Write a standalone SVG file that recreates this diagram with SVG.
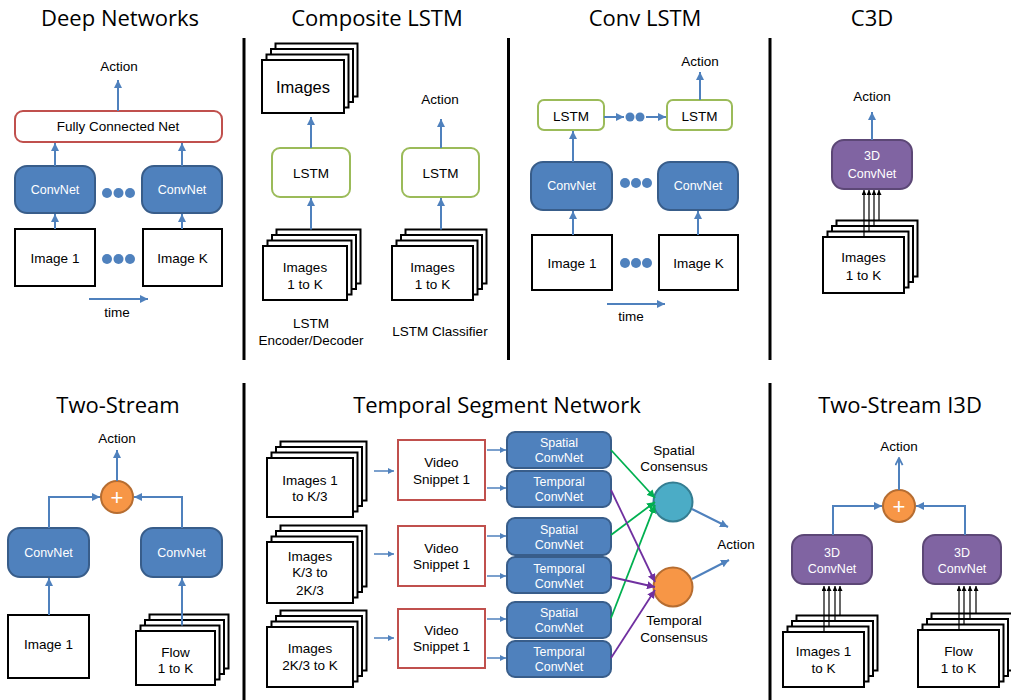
<svg xmlns="http://www.w3.org/2000/svg" width="1011" height="700" viewBox="0 0 1011 700">
<defs>
<style>
.t{font-family:"Open Sans","Noto Sans",sans-serif;font-size:22px;text-anchor:middle;fill:#000}
.l{font-family:"Liberation Sans",Arial,sans-serif;font-size:13.5px;text-anchor:middle;fill:#000}
.w{font-family:"Liberation Sans",Arial,sans-serif;font-size:12.5px;text-anchor:middle;fill:#fff}
.big{font-size:16.5px}
.plus{font-family:"Liberation Sans",Arial,sans-serif;font-size:22px;text-anchor:middle;fill:#fff}
.img{fill:#fff;stroke:#000;stroke-width:2}
.cn{fill:#4F81BD;stroke:#385D8A;stroke-width:2}
.ls{fill:#fff;stroke:#9BBB59;stroke-width:2}
.rd{fill:#fff;stroke:#C0504D;stroke-width:2}
.c3{fill:#8064A2;stroke:#5C4776;stroke-width:2}
.or{fill:#F79646;stroke:#B66D31;stroke-width:2}
.tl{fill:#4BACC6;stroke:#357D91;stroke-width:2}
.dot{fill:#4F81BD}
.a{fill:none;stroke:#4F81BD;stroke-width:2;marker-end:url(#ab)}
.as{fill:none;stroke:#4F81BD;stroke-width:1.5;marker-end:url(#abs)}
.av{fill:none;stroke:#4F81BD;stroke-width:2;marker-end:url(#av)}
.ak{fill:none;stroke:#000;stroke-width:1.2;marker-end:url(#ak)}
.ag{fill:none;stroke:#00B050;stroke-width:1.8;marker-end:url(#ag)}
.ap{fill:none;stroke:#7030A0;stroke-width:1.8;marker-end:url(#ap)}
.dv{stroke:#000;stroke-width:3}
</style>
<marker id="ab" viewBox="0 0 10 10" refX="10" refY="5" markerWidth="8" markerHeight="8" markerUnits="userSpaceOnUse" orient="auto"><path d="M0,0 L10,5 L0,10 z" fill="#4F81BD"/></marker>
<marker id="abs" viewBox="0 0 10 10" refX="10" refY="5" markerWidth="6" markerHeight="6" markerUnits="userSpaceOnUse" orient="auto"><path d="M0,0 L10,5 L0,10 z" fill="#4F81BD"/></marker>
<marker id="av" viewBox="0 0 10 10" refX="9" refY="5" markerWidth="9" markerHeight="9" markerUnits="userSpaceOnUse" orient="auto"><path d="M1,1 L9,5 L1,9" fill="none" stroke="#4F81BD" stroke-width="2"/></marker>
<marker id="ak" viewBox="0 0 10 10" refX="10" refY="5" markerWidth="6" markerHeight="5" markerUnits="userSpaceOnUse" orient="auto"><path d="M0,0 L10,5 L0,10 z" fill="#000"/></marker>
<marker id="ag" viewBox="0 0 10 10" refX="10" refY="5" markerWidth="8" markerHeight="8" markerUnits="userSpaceOnUse" orient="auto"><path d="M0,0 L10,5 L0,10 z" fill="#00B050"/></marker>
<marker id="ap" viewBox="0 0 10 10" refX="10" refY="5" markerWidth="8" markerHeight="8" markerUnits="userSpaceOnUse" orient="auto"><path d="M0,0 L10,5 L0,10 z" fill="#7030A0"/></marker>
</defs>
<rect x="0" y="0" width="1011" height="700" fill="#fff"/>

<g id="dividers">
<line class="dv" x1="244" y1="38" x2="244" y2="360"/>
<line class="dv" x1="508.5" y1="38" x2="508.5" y2="360"/>
<line class="dv" x1="770" y1="38" x2="770" y2="360"/>
<line class="dv" x1="244" y1="383" x2="244" y2="700"/>
<line class="dv" x1="770" y1="383" x2="770" y2="700"/>
</g>

<g id="titles">
<text class="t" x="120" y="26">Deep Networks</text>
<text class="t" x="377" y="26">Composite LSTM</text>
<text class="t" x="645" y="26">Conv LSTM</text>
<text class="t" x="872" y="26">C3D</text>
<text class="t" x="118" y="413">Two-Stream</text>
<text class="t" x="497" y="413">Temporal Segment Network</text>
<text class="t" x="900" y="413">Two-Stream I3D</text>
</g>

<!-- Deep Networks -->
<g id="dn-action"><text class="l" x="119" y="71">Action</text></g>
<g id="dn-fc"><rect class="rd" x="15" y="111" width="207" height="31" rx="8"/><text class="l" x="118" y="131">Fully Connected Net</text></g>
<g id="dn-conv1"><rect class="cn" x="15" y="166" width="80" height="47" rx="12"/><text class="w" x="55" y="194">ConvNet</text></g>
<g id="dn-convk"><rect class="cn" x="142" y="166" width="80" height="47" rx="12"/><text class="w" x="182" y="194">ConvNet</text></g>
<g id="dn-dots1"><circle class="dot" cx="107" cy="193" r="5"/><circle class="dot" cx="118.5" cy="193" r="5"/><circle class="dot" cx="130" cy="193" r="5"/></g>
<g id="dn-img1"><rect class="img" x="15" y="229" width="80" height="57"/><text class="l" x="55" y="263">Image 1</text></g>
<g id="dn-imgk"><rect class="img" x="143" y="229" width="79" height="57"/><text class="l" x="182.5" y="263">Image K</text></g>
<g id="dn-dots2"><circle class="dot" cx="107" cy="259" r="5"/><circle class="dot" cx="118.5" cy="259" r="5"/><circle class="dot" cx="130" cy="259" r="5"/></g>
<g id="dn-time"><text class="l" x="117" y="317">time</text></g>

<!-- Composite LSTM -->
<g id="cl-images">
<rect class="img" x="275.5" y="43.5" width="82" height="53"/>
<rect class="img" x="271" y="49" width="82" height="53"/>
<rect class="img" x="266.5" y="54.5" width="82" height="53"/>
<rect class="img" x="262" y="60" width="82" height="53"/>
<text class="l big" x="303" y="93">Images</text>
</g>
<g id="cl-lstm1"><rect class="ls" x="272" y="148" width="78" height="49" rx="8"/><text class="l" x="311" y="178">LSTM</text></g>
<g id="cl-stack1">
<rect class="img" x="276.5" y="229.5" width="84" height="54"/>
<rect class="img" x="272" y="235" width="84" height="54"/>
<rect class="img" x="267.5" y="240.5" width="84" height="54"/>
<rect class="img" x="263" y="246" width="84" height="54"/>
<text class="l" x="305" y="272">Images</text><text class="l" x="305" y="289">1 to K</text>
</g>
<g id="cl-label1"><text class="l" x="311" y="328">LSTM</text><text class="l" x="311" y="345">Encoder/Decoder</text></g>
<g id="cl-action"><text class="l" x="440" y="104">Action</text></g>
<g id="cl-lstm2"><rect class="ls" x="402" y="148" width="77" height="49" rx="8"/><text class="l" x="440.5" y="178">LSTM</text></g>
<g id="cl-stack2">
<rect class="img" x="405.5" y="229.5" width="81" height="54"/>
<rect class="img" x="401" y="235" width="81" height="54"/>
<rect class="img" x="396.5" y="240.5" width="81" height="54"/>
<rect class="img" x="392" y="246" width="81" height="54"/>
<text class="l" x="432.5" y="272">Images</text><text class="l" x="432.5" y="289">1 to K</text>
</g>
<g id="cl-label2"><text class="l" x="440" y="336">LSTM Classifier</text></g>

<!-- Conv LSTM -->
<g id="cv-action"><text class="l" x="700" y="66">Action</text></g>
<g id="cv-lstm1"><rect class="ls" x="538" y="100" width="66" height="30" rx="6"/><text class="l" x="571" y="121">LSTM</text></g>
<g id="cv-lstmk"><rect class="ls" x="667" y="100" width="65" height="30" rx="6"/><text class="l" x="699.5" y="121">LSTM</text></g>
<g id="cv-dots0"><circle class="dot" cx="630" cy="117" r="4.5"/><circle class="dot" cx="640" cy="117" r="4.5"/></g>
<g id="cv-conv1"><rect class="cn" x="531" y="162" width="81" height="48" rx="12"/><text class="w" x="571.5" y="190">ConvNet</text></g>
<g id="cv-convk"><rect class="cn" x="658" y="162" width="80" height="48" rx="12"/><text class="w" x="698" y="190">ConvNet</text></g>
<g id="cv-dots1"><circle class="dot" cx="625" cy="183" r="5"/><circle class="dot" cx="636" cy="183" r="5"/><circle class="dot" cx="647" cy="183" r="5"/></g>
<g id="cv-img1"><rect class="img" x="532" y="235" width="80" height="55"/><text class="l" x="572" y="268">Image 1</text></g>
<g id="cv-imgk"><rect class="img" x="659" y="235" width="79" height="55"/><text class="l" x="698.5" y="268">Image K</text></g>
<g id="cv-dots2"><circle class="dot" cx="625" cy="263" r="5"/><circle class="dot" cx="636" cy="263" r="5"/><circle class="dot" cx="647" cy="263" r="5"/></g>
<g id="cv-time"><text class="l" x="631" y="321">time</text></g>

<!-- C3D -->
<g id="c3-action"><text class="l" x="872" y="101">Action</text></g>
<g id="c3-net"><rect class="c3" x="832" y="140" width="80" height="49" rx="12"/><text class="w" x="872" y="160">3D</text><text class="w" x="872" y="177.5">ConvNet</text></g>
<g id="c3-stack">
<rect class="img" x="836.5" y="220.5" width="81" height="56"/>
<rect class="img" x="832" y="226" width="81" height="56"/>
<rect class="img" x="827.5" y="231.5" width="81" height="56"/>
<rect class="img" x="823" y="237" width="81" height="56"/>
<text class="l" x="863.5" y="262">Images</text><text class="l" x="863.5" y="280">1 to K</text>
</g>

<!-- Two-Stream -->
<g id="ts-action"><text class="l" x="117" y="443">Action</text></g>
<g id="ts-sum"><circle class="or" cx="117" cy="497" r="16"/><text class="plus" x="117" y="504.5">+</text></g>
<g id="ts-conv1"><rect class="cn" x="8" y="528" width="81" height="49" rx="12"/><text class="w" x="48.5" y="557">ConvNet</text></g>
<g id="ts-conv2"><rect class="cn" x="141" y="528" width="81" height="49" rx="12"/><text class="w" x="181.5" y="557">ConvNet</text></g>
<g id="ts-img"><rect class="img" x="8" y="615" width="81" height="63"/><text class="l" x="48.5" y="649">Image 1</text></g>
<g id="ts-flow">
<rect class="img" x="149.5" y="614.5" width="79" height="54"/>
<rect class="img" x="145" y="620" width="79" height="54"/>
<rect class="img" x="140.5" y="625.5" width="79" height="54"/>
<rect class="img" x="136" y="631" width="79" height="54"/>
<text class="l" x="175.5" y="656.5">Flow</text><text class="l" x="175.5" y="673">1 to K</text>
</g>

<!-- TSN -->
<g id="tsn-stack1">
<rect class="img" x="280.5" y="441.5" width="86" height="59"/>
<rect class="img" x="276" y="447" width="86" height="59"/>
<rect class="img" x="271.5" y="452.5" width="86" height="59"/>
<rect class="img" x="267" y="458" width="86" height="59"/>
<text class="l" x="310" y="484.5">Images 1</text><text class="l" x="310" y="501">to K/3</text>
</g>
<g id="tsn-stack2">
<rect class="img" x="280.5" y="525.5" width="86" height="61"/>
<rect class="img" x="276" y="531" width="86" height="61"/>
<rect class="img" x="271.5" y="536.5" width="86" height="61"/>
<rect class="img" x="267" y="542" width="86" height="61"/>
<text class="l" x="310" y="560.5">Images</text><text class="l" x="310" y="577">K/3 to</text><text class="l" x="310" y="594.5">2K/3</text>
</g>
<g id="tsn-stack3">
<rect class="img" x="280.5" y="610.5" width="86" height="60"/>
<rect class="img" x="276" y="616" width="86" height="60"/>
<rect class="img" x="271.5" y="621.5" width="86" height="60"/>
<rect class="img" x="267" y="627" width="86" height="60"/>
<text class="l" x="310" y="653">Images</text><text class="l" x="310" y="670">2K/3 to K</text>
</g>
<g id="tsn-snip1"><rect class="rd" x="398" y="440" width="87" height="60"/><text class="l" x="441.5" y="467">Video</text><text class="l" x="441.5" y="483.5">Snippet 1</text></g>
<g id="tsn-snip2"><rect class="rd" x="398" y="526" width="87" height="60"/><text class="l" x="441.5" y="553">Video</text><text class="l" x="441.5" y="569">Snippet 1</text></g>
<g id="tsn-snip3"><rect class="rd" x="398" y="609" width="87" height="59"/><text class="l" x="441.5" y="635">Video</text><text class="l" x="441.5" y="651">Snippet 1</text></g>
<g id="tsn-s1"><rect class="cn" x="507" y="432" width="104" height="36" rx="8"/><text class="w" x="559" y="446.5">Spatial</text><text class="w" x="559" y="462">ConvNet</text></g>
<g id="tsn-t1"><rect class="cn" x="507" y="471" width="104" height="36" rx="8"/><text class="w" x="559" y="486">Temporal</text><text class="w" x="559" y="501">ConvNet</text></g>
<g id="tsn-s2"><rect class="cn" x="507" y="518" width="104" height="37" rx="8"/><text class="w" x="559" y="533.5">Spatial</text><text class="w" x="559" y="548.5">ConvNet</text></g>
<g id="tsn-t2"><rect class="cn" x="507" y="557" width="104" height="36" rx="8"/><text class="w" x="559" y="573">Temporal</text><text class="w" x="559" y="587.5">ConvNet</text></g>
<g id="tsn-s3"><rect class="cn" x="507" y="602" width="104" height="36" rx="8"/><text class="w" x="559" y="616.5">Spatial</text><text class="w" x="559" y="632">ConvNet</text></g>
<g id="tsn-t3"><rect class="cn" x="507" y="641" width="104" height="36" rx="8"/><text class="w" x="559" y="656">Temporal</text><text class="w" x="559" y="671">ConvNet</text></g>
<g id="tsn-sc"><circle class="tl" cx="673" cy="502" r="19.5"/><text class="l" x="674" y="454.5">Spatial</text><text class="l" x="674" y="470.5">Consensus</text></g>
<g id="tsn-tc"><circle class="or" cx="673" cy="587" r="19.5"/><text class="l" x="674" y="625">Temporal</text><text class="l" x="674" y="642">Consensus</text></g>
<g id="tsn-action"><text class="l" x="736" y="549">Action</text></g>

<!-- Two-Stream I3D -->
<g id="i3-action"><text class="l" x="899" y="451">Action</text></g>
<g id="i3-sum"><circle class="or" cx="899" cy="506" r="16"/><text class="plus" x="899" y="513.5">+</text></g>
<g id="i3-net1"><rect class="c3" x="792" y="535" width="80" height="49" rx="12"/><text class="w" x="832" y="557">3D</text><text class="w" x="832" y="572.5">ConvNet</text></g>
<g id="i3-net2"><rect class="c3" x="923" y="535" width="78" height="49" rx="12"/><text class="w" x="962" y="557">3D</text><text class="w" x="962" y="572.5">ConvNet</text></g>
<g id="i3-stack1">
<rect class="img" x="796.5" y="615.5" width="81" height="55"/>
<rect class="img" x="792" y="621" width="81" height="55"/>
<rect class="img" x="787.5" y="626.5" width="81" height="55"/>
<rect class="img" x="783" y="632" width="81" height="55"/>
<text class="l" x="823.5" y="656">Images 1</text><text class="l" x="823.5" y="673">to K</text>
</g>
<g id="i3-stack2">
<rect class="img" x="931.5" y="613.5" width="81" height="57"/>
<rect class="img" x="927" y="619" width="81" height="57"/>
<rect class="img" x="922.5" y="624.5" width="81" height="57"/>
<rect class="img" x="918" y="630" width="81" height="57"/>
<text class="l" x="958.5" y="656">Flow</text><text class="l" x="958.5" y="673">1 to K</text>
</g>

<g id="connectors">
<!-- Deep Networks -->
<path class="a" d="M118 111 V80"/>
<path class="a" d="M55 166 V143"/>
<path class="a" d="M182 166 V143"/>
<path class="a" d="M55 229 V214"/>
<path class="a" d="M182 229 V214"/>
<path class="a" d="M89 299 H148"/>
<!-- Composite LSTM -->
<path class="a" d="M311 148 V117"/>
<path class="a" d="M311 229.5 V198"/>
<path class="a" d="M441 148 V119"/>
<path class="a" d="M441 229.5 V198"/>
<!-- Conv LSTM -->
<path class="a" d="M700 100 V72"/>
<path class="a" d="M604 117 H624"/>
<path class="a" d="M646 117 H666"/>
<path class="a" d="M573 162 V131"/>
<path class="a" d="M573 235 V211"/>
<path class="a" d="M698 235 V211"/>
<path class="a" d="M607 304 H665"/>
<!-- C3D -->
<path class="a" d="M872 140 V112"/>
<path class="ak" d="M864 237 V190"/>
<path class="ak" d="M869 231.5 V190"/>
<path class="ak" d="M874 226 V190"/>
<path class="ak" d="M879 220.5 V190"/>
<!-- Two-Stream -->
<path class="a" d="M117 481 V450"/>
<path class="a" d="M49 528 V497 H100"/>
<path class="a" d="M182 528 V497 H134"/>
<path class="a" d="M49 615 V578"/>
<path class="a" d="M182 625.5 V578"/>
<!-- TSN -->
<path class="as" d="M374 471 H394"/>
<path class="as" d="M374 554 H394"/>
<path class="as" d="M374 638 H394"/>
<path class="as" d="M487 450 H506"/>
<path class="as" d="M487 488 H506"/>
<path class="as" d="M487 536 H506"/>
<path class="as" d="M487 576 H506"/>
<path class="as" d="M487 619 H506"/>
<path class="as" d="M487 658 H506"/>
<path class="ag" d="M611 450 L655 498"/>
<path class="ag" d="M611 535 L655 502"/>
<path class="ag" d="M611 618 L655 505"/>
<path class="ap" d="M611 490 L655 582"/>
<path class="ap" d="M611 577 L655 587"/>
<path class="ap" d="M611 658 L655 590"/>
<path class="a" d="M692 509 L728 527"/>
<path class="a" d="M692 579 L729 560"/>
<!-- Two-Stream I3D -->
<path class="av" d="M899 490 V458"/>
<path class="a" d="M833 535 V506 H882"/>
<path class="a" d="M965 535 V506 H916"/>
<path class="ak" d="M824 632 V586"/>
<path class="ak" d="M829 626.5 V586"/>
<path class="ak" d="M835 621 V586"/>
<path class="ak" d="M840 615.5 V586"/>
<path class="ak" d="M959 630 V586"/>
<path class="ak" d="M964 624.5 V586"/>
<path class="ak" d="M970 619 V586"/>
<path class="ak" d="M976 613.5 V586"/>
</g>
</svg>
